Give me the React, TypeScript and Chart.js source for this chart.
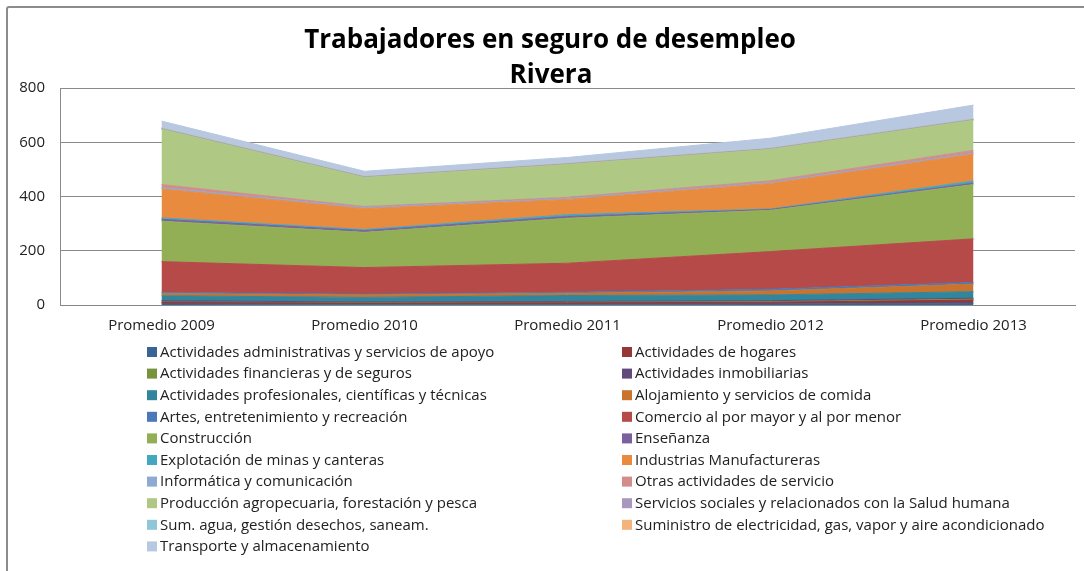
import React, { useEffect, useRef } from "react";
import { Chart, registerables } from "chart.js";

Chart.register(...registerables);

const categories = ["Promedio 2009", "Promedio 2010", "Promedio 2011", "Promedio 2012", "Promedio 2013"];

const seriesNames = [
  "Actividades administrativas y servicios de apoyo",
  "Actividades de hogares",
  "Actividades financieras y de seguros",
  "Actividades inmobiliarias",
  "Actividades profesionales, científicas y técnicas",
  "Alojamiento y servicios de comida",
  "Artes, entretenimiento y recreación",
  "Comercio al por mayor y al por menor",
  "Construcción",
  "Enseñanza",
  "Explotación de minas y canteras",
  "Industrias Manufactureras",
  "Informática y comunicación",
  "Otras actividades de servicio",
  "Producción agropecuaria, forestación y pesca",
  "Servicios sociales y relacionados con la Salud humana",
  "Sum. agua, gestión desechos, saneam.",
  "Suministro de electricidad, gas, vapor y aire acondicionado",
  "Transporte y almacenamiento",
];

const administrativas = [4, 3, 3, 4, 7];
const hogares = [5, 4, 5, 6, 11];
const financieras = [2, 1, 2, 2, 3];
const inmobiliarias = [5, 3, 3, 4, 4];
const profesionales = [18, 17, 22, 21, 24];
const alojamiento = [8, 9, 8, 15, 28];
const artes = [5, 3, 4, 6, 6];
const comercio = [113, 98, 107, 139, 161];
const construccion = [149, 130, 166, 152, 200];
const ensenanza = [7, 6, 6, 3, 5];
const explotacion = [5, 4, 7, 2, 8];
const industrias = [107, 77, 56, 94, 99];
const informatica = [5, 4, 4, 4, 4];
const otras = [11, 4, 4, 6, 10];
const agropecuaria = [204, 107, 121, 116, 111];
const serviciosSociales = [2, 2, 2, 2, 2];
const sumAgua = [2, 1, 1, 1, 2];
const electricidad = [1, 1, 1, 1, 1];
const transporte = [25, 19, 22, 37, 51];

const seriesValues = [
  administrativas, hogares, financieras, inmobiliarias, profesionales, alojamiento, artes,
  comercio, construccion, ensenanza, explotacion, industrias, informatica, otras,
  agropecuaria, serviciosSociales, sumAgua, electricidad, transporte,
];

const seriesColors = [
  "#3A6398", "#953735", "#77933C", "#604A7B", "#31859C", "#C8732E", "#4A78B8",
  "#B64A48", "#92AF55", "#7B5F9E", "#45A6BF", "#E98B3F", "#8EA9D4", "#D48C8A",
  "#AFC884", "#A898C0", "#8DC7D8", "#F4B27C", "#B8C8E0",
];

const yTicks = [0, 200, 400, 600, 800];

const titleLines = ["Trabajadores en seguro de desempleo", "Rivera"];

const FONT = "'Open Sans', 'DejaVu Sans', sans-serif";

const legendPlugin = {
  id: "twoColLegend",
  afterDraw(chart: any) {
    const ctx = chart.ctx;
    ctx.save();
    // title
    ctx.fillStyle = "#000";
    ctx.textAlign = "center";
    ctx.textBaseline = "middle";
    ctx.font = `bold 26px ${FONT}`;
    ctx.fillText(titleLines[0], 550, 41);
    ctx.fillText(titleLines[1], 551, 76);
    // legend
    ctx.font = `15px ${FONT}`;
    ctx.textAlign = "left";
    const colX = [147, 622];
    const startY = 352;
    const step = 21.6;
    seriesNames.forEach((name, i) => {
      const col = i % 2;
      const row = Math.floor(i / 2);
      const x = colX[col];
      const y = startY + row * step;
      ctx.fillStyle = seriesColors[i];
      ctx.fillRect(x, y - 5, 10, 10);
      ctx.fillStyle = "#222";
      ctx.fillText(name, x + 13, y + 0.5);
    });
    ctx.restore();
  },
};

export default function App() {
  const canvasRef = useRef<HTMLCanvasElement | null>(null);

  useEffect(() => {
    if (!canvasRef.current) return;
    const datasets = seriesNames.map((name, i) => ({
      label: name,
      data: seriesValues[i],
      backgroundColor: seriesColors[i],
      borderColor: seriesColors[i],
      borderWidth: 1,
      pointRadius: 0,
      tension: 0,
      fill: i === 0 ? "origin" : "-1",
    }));
    const chart = new Chart(canvasRef.current, {
      type: "line",
      data: { labels: categories, datasets },
      plugins: [legendPlugin],
      options: {
        animation: false,
        responsive: false,
        devicePixelRatio: 1,
        layout: { padding: { top: 88, right: 9, bottom: 0, left: 0 } },
        plugins: {
          legend: { display: false },
          title: { display: false },
          tooltip: { enabled: false },
        },
        scales: {
          x: {
            offset: true,
            grid: { display: false, drawTicks: false },
            border: { display: true, color: "#868686", width: 1 },
            ticks: { font: { family: FONT, size: 15 }, color: "#222", padding: 12, maxRotation: 0 },
            afterFit: (scale: any) => {
              scale.height = 571 - 305;
            },
          },
          y: {
            stacked: true,
            min: 0,
            max: 800,
            afterBuildTicks: (scale: any) => {
              scale.ticks = yTicks.map((v) => ({ value: v }));
            },
            grid: { color: "#8a8a8a", drawTicks: false, lineWidth: 1 },
            border: { display: true, color: "#8a8a8a", width: 1 },
            ticks: { font: { family: FONT, size: 15 }, color: "#222", padding: 15 },
            afterFit: (scale: any) => {
              scale.width = 60;
            },
          },
        },
      } as any,
    });
    return () => chart.destroy();
  }, []);

  return (
    <div style={{ position: "fixed", left: 0, top: 0, width: 1084, height: 571, background: "#fff", overflow: "hidden" }}>
      <div
        style={{
          position: "absolute",
          left: 6,
          top: 6,
          width: 1090,
          height: 580,
          border: "2px solid #8c8c8c",
          borderRadius: 3,
          boxSizing: "border-box",
        }}
      />
      <canvas ref={canvasRef} width={1084} height={571} style={{ position: "absolute", left: 0, top: 0 }} />
    </div>
  );
}
